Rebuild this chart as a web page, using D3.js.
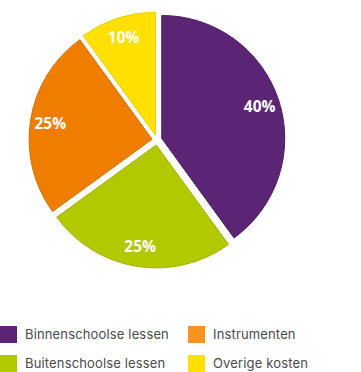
<!DOCTYPE html>
<html>
<head>
<meta charset="utf-8">
<script src="https://cdn.jsdelivr.net/npm/d3@7"></script>
<style>
  body { margin: 0; background: #fff; }
  svg { display: block; }
</style>
</head>
<body>
<div id="chart"></div>
<script>
// data
var categories = ["Binnenschoolse lessen", "Buitenschoolse lessen", "Instrumenten", "Overige kosten"];
var values = [40, 25, 25, 10];
var labels = ["40%", "25%", "25%", "10%"];
var fills = ["#5c2474", "#b2c800", "#ee7d00", "#ffe000"];
var strokes = ["#4e1d63", "#a3b600", "#d97000", "#ecd000"];
var legendFills = ["#5c2474", "#b2c800", "#f7931e", "#ffdf00"];

var width = 361, height = 372;
var cx = 157, cy = 140, radius = 123, offset = 5, labelR = 108;

var svg = d3.select("#chart").append("svg")
    .attr("width", width)
    .attr("height", height);

var pie = d3.pie().sort(null).value(function(d) { return d; });
var arc = d3.arc().innerRadius(0).outerRadius(radius);
var arcs = pie(values);

var g = svg.append("g").attr("transform", "translate(" + cx + "," + cy + ")");

var slices = g.selectAll("g.slice")
    .data(arcs)
    .enter().append("g")
    .attr("class", "slice")
    .attr("transform", function(d) {
        var a = (d.startAngle + d.endAngle) / 2;
        return "translate(" + (Math.sin(a) * offset) + "," + (-Math.cos(a) * offset) + ")";
    });

slices.append("path")
    .attr("d", arc)
    .attr("fill", function(d, i) { return fills[i]; })
    .attr("stroke", function(d, i) { return strokes[i]; })
    .attr("stroke-width", 1);

// percentage labels near the rim
g.selectAll("text.pct")
    .data(arcs)
    .enter().append("text")
    .attr("class", "pct")
    .attr("x", function(d) { return Math.sin((d.startAngle + d.endAngle) / 2) * labelR; })
    .attr("y", function(d) { return -Math.cos((d.startAngle + d.endAngle) / 2) * labelR; })
    .attr("dy", "0.35em")
    .attr("text-anchor", "middle")
    .attr("fill", "#fff")
    .style("font-family", "'Open Sans', sans-serif")
    .style("font-weight", 700)
    .style("font-size", "15.5px")
    .text(function(d, i) { return labels[i]; });

// legend: two columns, order matches picture
var legendOrder = [0, 2, 1, 3];
var legend = svg.append("g");
var items = legend.selectAll("g")
    .data(legendOrder)
    .enter().append("g")
    .attr("transform", function(d, k) {
        var col = k % 2, row = Math.floor(k / 2);
        return "translate(" + (col * 188) + "," + (326 + row * 29) + ")";
    });

items.append("rect")
    .attr("width", 17)
    .attr("height", 17)
    .attr("fill", function(d) { return legendFills[d]; });

items.append("text")
    .attr("x", 25)
    .attr("y", 8.5)
    .attr("dy", "0.35em")
    .attr("fill", "#4a4a4a")
    .style("font-family", "Inter, sans-serif")
    .style("font-size", "13px")
    .style("letter-spacing", "0.15px")
    .text(function(d) { return categories[d]; });
</script>
</body>
</html>
